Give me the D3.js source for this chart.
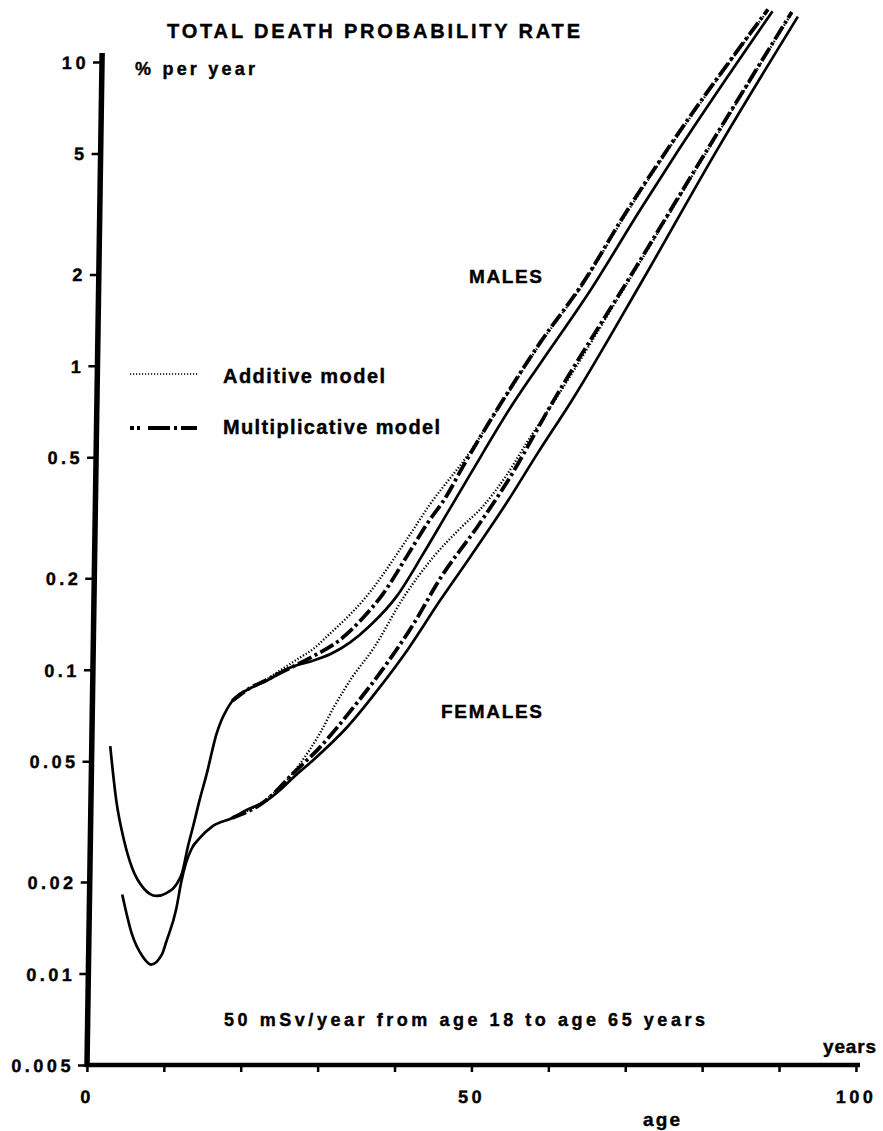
<!DOCTYPE html>
<html>
<head>
<meta charset="utf-8">
<script src="https://cdn.jsdelivr.net/npm/d3@7"></script>
<style>
  body { margin: 0; background: #fff; }
  svg text { font-family: "Liberation Sans", Arial, Helvetica, sans-serif; font-weight: bold; fill: #000; stroke: #000; stroke-width: 0.4px; }
</style>
</head>
<body>
<div id="chart"></div>
<script>
// total death probability rate, % per year
var maleBaseAge  = [2.4, 3.3, 4.4, 5.5, 7.0, 8.7, 10.0, 11.3, 12.0, 12.7, 13.4, 14.1, 15.0, 16.2, 16.8, 17.5, 18.2, 20.4, 22.6, 25.6, 28.6, 31.0, 33.4, 36.0, 39.4, 42.7, 45.7, 48.7, 54.1, 57.6, 64.0, 70.3, 75.2, 87.1]
var maleBaseRate = [0.056, 0.037, 0.0273, 0.0222, 0.0191, 0.0180, 0.0184, 0.0197, 0.0215, 0.0262, 0.031, 0.037, 0.0454, 0.0615, 0.068, 0.074, 0.079, 0.0866, 0.092, 0.1015, 0.107, 0.113, 0.123, 0.140, 0.175, 0.240, 0.325, 0.440, 0.750, 1.02, 1.78, 3.27, 5.16, 14.7]

var maleAddAge  = [18.2, 20.4, 22.6, 24.3, 26.5, 28.6, 30.7, 33.0, 35.0, 37.2, 39.3, 41.5, 43.5, 45.7, 47.5, 52.8, 57.5, 63.0, 68.1, 73.7, 86.5]
var maleAddRate = [0.079, 0.0868, 0.093, 0.0993, 0.108, 0.117, 0.131, 0.149, 0.169, 0.200, 0.240, 0.292, 0.350, 0.415, 0.475, 0.765, 1.18, 1.86, 3.06, 5.1, 14.8]

var maleMultAge  = [18.2, 20.4, 22.6, 24.5, 28.4, 32.0, 35.0, 37.6, 40.6, 43.1, 45.7, 47.7, 52.8, 57.5, 63.0, 68.1, 73.7, 86.5]
var maleMultRate = [0.079, 0.0868, 0.0925, 0.098, 0.110, 0.125, 0.148, 0.178, 0.236, 0.300, 0.375, 0.465, 0.772, 1.19, 1.879, 3.10, 5.16, 14.9]

var femaleBaseAge  = [4.25, 5.6, 7.0, 8.15, 9.56, 10.06, 11.3, 11.9, 12.5, 13.2, 14.2, 15.84, 18.4, 20.2, 22.8, 24.5, 26.2, 28.7, 33.1, 37.3, 40.8, 45.0, 48.8, 53.5, 57.4, 61.8, 70.5, 80.2, 90.4]
var femaleBaseRate = [0.0182, 0.01345, 0.0114, 0.0107, 0.0116, 0.0127, 0.0163, 0.0200, 0.0232, 0.0258, 0.0279, 0.0305, 0.0325, 0.0345, 0.0370, 0.0400, 0.0440, 0.0501, 0.0644, 0.0873, 0.1155, 0.1689, 0.2342, 0.355, 0.515, 0.772, 1.87, 5.16, 14.1]

var femaleAddAge  = [18.4, 22.8, 25.0, 27.1, 29.6, 31.5, 33.8, 36.4, 40.2, 44.0, 47.5, 50.4, 53.5, 56.0, 59.4, 69.1, 78.9, 89.6]
var femaleAddRate = [0.0325, 0.0375, 0.042, 0.049, 0.0615, 0.076, 0.095, 0.117, 0.172, 0.234, 0.292, 0.345, 0.44, 0.56, 0.76, 1.94, 5.1, 14.5]

var femaleMultAge  = [18.4, 22.8, 26.2, 29.6, 33.9, 38.2, 41.5, 45.0, 49.7, 53.5, 59.4, 69.1, 78.9, 89.6]
var femaleMultRate = [0.0325, 0.0372, 0.0455, 0.0553, 0.0749, 0.1047, 0.140, 0.200, 0.295, 0.415, 0.77, 1.966, 5.16, 14.6]

var yTicks      = [10, 5, 2, 1, 0.5, 0.2, 0.1, 0.05, 0.02, 0.01, 0.005]
var yTickLabels = ["10", "5", "2", "1", "0.5", "0.2", "0.1", "0.05", "0.02", "0.01", "0.005"]
var xTicks      = [0, 10, 20, 30, 40, 50, 60, 70, 80, 90, 100]
var xTickLabels = ["0", "", "", "", "", "50", "", "", "", "", "100"]

var width = 883, height = 1131

var svg = d3.select("#chart")
  .append("svg")
    .attr("width", width)
    .attr("height", height)

var x = d3.scaleLinear()
  .domain([0, 100])
  .range([0, 769])

var y = d3.scaleLog()
  .domain([0.005, 10])
  .range([1065, 62])

// the printed y axis leans a little to the right towards the top
var lean = 15 / 1003
var plot = svg.append("g")
  .attr("transform", "translate(" + (87 + lean * 1065) + ",0) skewX(" + (-Math.atan(lean) * 180 / Math.PI) + ")")

function zip(ages, rates) {
  return ages.map(function(a, i) { return { age: a, rate: rates[i] } })
}

var series = [
  { values: zip(maleBaseAge, maleBaseRate), dash: null, w: 2.7 },
  { values: zip(femaleBaseAge, femaleBaseRate), dash: null, w: 2.7 },
  { values: zip(maleMultAge, maleMultRate), dash: "15,3.5,3,3.5", w: 3.8 },
  { values: zip(femaleMultAge, femaleMultRate), dash: "15,3.5,3,3.5", w: 3.8 },
  { values: zip(maleAddAge, maleAddRate), dash: "1.3,1.9", w: 2.3 },
  { values: zip(femaleAddAge, femaleAddRate), dash: "1.3,1.9", w: 2.3 }
]

var line = d3.line()
  .x(function(d) { return x(d.age) })
  .y(function(d) { return y(d.rate) })
  .curve(d3.curveMonotoneX)

plot.append("g")
  .selectAll("path")
  .data(series)
  .enter()
  .append("path")
    .attr("d", function(d) { return line(d.values) })
    .attr("fill", "none")
    .attr("stroke", "#000")
    .attr("stroke-width", function(d) { return d.w })
    .attr("stroke-dasharray", function(d) { return d.dash })

// Y axis
var yAxis = plot.append("g")
  .call(d3.axisLeft(y)
    .tickValues(yTicks)
    .tickSize(9)
    .tickPadding(4)
    .tickFormat(function(d) { return yTickLabels[yTicks.indexOf(d)] }))
yAxis.select(".domain").remove()
yAxis.selectAll(".tick line").attr("stroke-width", 2.5)
yAxis.selectAll(".tick text")
  .style("font-size", "18px")
  .style("letter-spacing", "3.5px")
  .attr("dy", "0.36em")

// X axis
var xAxis = plot.append("g")
  .attr("transform", "translate(0," + y(0.005) + ")")
  .call(d3.axisBottom(x)
    .tickValues(xTicks)
    .tickSize(7)
    .tickPadding(18)
    .tickFormat(function(d) { return xTickLabels[xTicks.indexOf(d)] }))
xAxis.select(".domain").remove()
xAxis.selectAll(".tick line").attr("stroke-width", 2.5)
xAxis.selectAll(".tick text")
  .style("font-size", "18px")
  .style("letter-spacing", "3.5px")

plot.append("line")
  .attr("x1", x(0)).attr("x2", x(0))
  .attr("y1", y(0.005) + 2).attr("y2", y(10) - 9)
  .attr("stroke", "#000")
  .attr("stroke-width", 5.5)

plot.append("line")
  .attr("x1", x(0) - 2).attr("x2", x(100) + 4)
  .attr("y1", y(0.005)).attr("y2", y(0.005))
  .attr("stroke", "#000")
  .attr("stroke-width", 4.5)

// Texts
function label(txt, tx, ty, size, len) {
  svg.append("text")
    .attr("x", tx)
    .attr("y", ty)
    .attr("textLength", len)
    .attr("lengthAdjust", "spacing")
    .style("font-size", size + "px")
    .text(txt)
}

label("TOTAL DEATH PROBABILITY RATE", 167, 38, 20, 413)
label("% per year", 135, 75, 18, 120)
label("Additive model", 223, 383, 20, 162)
label("Multiplicative model", 223, 434, 20, 217)
label("MALES", 469, 283, 19, 73)
label("FEMALES", 441, 718, 19, 101)
label("50 mSv/year from age 18 to age 65 years", 224, 1026, 18, 481)
label("years", 823, 1053, 19, 53)
label("age", 643, 1126, 19, 37)

// Legend samples
svg.append("line")
  .attr("x1", 130).attr("x2", 198)
  .attr("y1", 374).attr("y2", 374)
  .attr("stroke", "#000")
  .attr("stroke-width", 1.6)
  .attr("stroke-dasharray", "1.2,1.8")

svg.append("line")
  .attr("x1", 130).attr("x2", 197)
  .attr("y1", 428).attr("y2", 428)
  .attr("stroke", "#000")
  .attr("stroke-width", 3.8)
  .attr("stroke-dasharray", "4,3,3,8,22,4,3,4,16")
</script>
</body>
